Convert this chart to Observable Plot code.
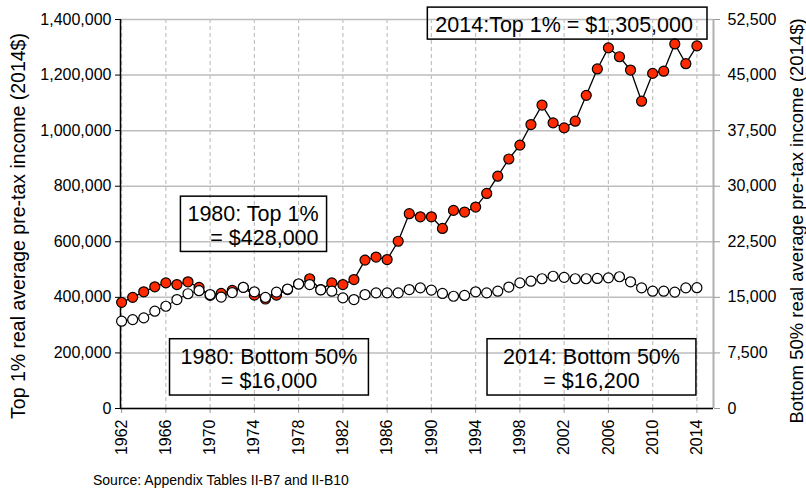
<!DOCTYPE html>
<html><head><meta charset="utf-8">
<script src="https://cdn.jsdelivr.net/npm/d3@7"></script>
<script src="https://cdn.jsdelivr.net/npm/@observablehq/plot@0.6"></script>
<style>
body{margin:0;background:#fff;font-family:"Liberation Sans",Arial,sans-serif;}
#caption{font-size:14px;padding-left:93px;padding-top:10px;line-height:16px;color:#000;}
</style></head><body>
<div id="chart"></div>
<div id="caption">Source: Appendix Tables II-B7 and II-B10</div>
<script>
const years = [1962,1963,1964,1965,1966,1967,1968,1969,1970,1971,1972,1973,1974,1975,1976,1977,1978,1979,1980,1981,1982,1983,1984,1985,1986,1987,1988,1989,1990,1991,1992,1993,1994,1995,1996,1997,1998,1999,2000,2001,2002,2003,2004,2005,2006,2007,2008,2009,2010,2011,2012,2013,2014];
const top1 = [382000,400000,420000,438000,452000,446000,456000,436000,407000,414000,425000,436000,408000,394000,408000,428000,448000,467000,428000,452000,446000,464000,534000,545000,536000,602000,701000,690000,690000,648000,713000,707000,725000,774000,836000,898000,948000,1022000,1092000,1028000,1010000,1034000,1127000,1222000,1298000,1266000,1218000,1106000,1206000,1214000,1312000,1241000,1305000];
const bottom50 = [11780,12000,12230,13130,13800,14700,15490,15900,15380,15040,15640,16350,15750,15000,15710,16120,16800,16730,16000,15830,14930,14700,15380,15600,15600,15600,16050,16280,15980,15530,15150,15260,15750,15600,15830,16390,16950,17180,17510,17850,17700,17510,17510,17550,17630,17780,17100,16280,15830,15830,15710,16280,16300];
const leftTicks = [0,200000,400000,600000,800000,1000000,1200000,1400000];
const rightTicks = [0,7500,15000,22500,30000,37500,45000,52500];
const yearTicks = [1962,1966,1970,1974,1978,1982,1986,1990,1994,1998,2002,2006,2010,2014];
const leftTitle = "Top 1% real average pre-tax income (2014$)";
const rightTitle = "Bottom 50% real average pre-tax income (2014$)";
const annotations = [
  {text: "2014:Top 1% = $1,305,000", x: 2002.0, y: 1382600},
  {text: "1980: Top 1%\n= $428,000", x: 1979.8, y: 658500},
  {text: "1980: Bottom 50%\n= $16,000", x: 1975.32, y: 145400},
  {text: "2014: Bottom 50%\n= $16,200", x: 2004.47, y: 145400}
];
// styling of the annotation boxes: text anchor and padding [left, right, top, bottom]
const annoAnchor = ["middle", "end", "middle", "middle"];
const boxPad = [[8,14,6,2],[7,8,6,1],[11,11,6,2],[16,16,6,2]];

const ratio = leftTicks[leftTicks.length-1] / rightTicks[rightTicks.length-1];
const rows = years.map((yr,i)=>({year: yr, top1: top1[i], bottom50: bottom50[i]}));
const xDomain = [1961.9, 2015.5];
const fmt = d3.format(",");
const FONT = '"Liberation Sans", Arial, sans-serif';
const annoMarks = ["middle", "end"].map(anchor =>
  Plot.text(annotations.filter((a, i) => annoAnchor[i] === anchor),
    {x: "x", y: "y", text: "text", fontSize: 21.5, lineHeight: 1.13, textAnchor: anchor, fill: "#000"}));

const plot = Plot.plot({
  width: 806, height: 462,
  marginLeft: 120, marginRight: 93, marginTop: 19, marginBottom: 54,
  style: {fontFamily: FONT, fontSize: "16px", color: "#000", background: "#fff", overflow: "visible"},
  x: {domain: xDomain},
  y: {domain: [0, 1400000]},
  marks: [
    Plot.gridY(leftTicks, {stroke: "#bdbdbd", strokeOpacity: 1, strokeWidth: 1.5}),
    Plot.gridX(yearTicks, {stroke: "#c2c2c2", strokeOpacity: 1, strokeDasharray: "4,3", strokeWidth: 1.2}),
    Plot.ruleX([xDomain[1]], {stroke: "#b0b0b0", strokeWidth: 2}),
    Plot.axisY(leftTicks, {anchor: "left", tickFormat: fmt, tickSize: 5, tickPadding: 4, label: null, fontSize: 16, stroke: "#000"}),
    Plot.axisY(rightTicks.map(v => v * ratio), {anchor: "right", tickFormat: d => fmt(Math.round(d / ratio)), tickSize: 6, tickPadding: 8, label: null, fontSize: 16, stroke: "#999"}),
    Plot.axisX(yearTicks, {anchor: "bottom", tickRotate: -90, tickFormat: d => String(d), tickSize: 5, tickPadding: 6, label: null, fontSize: 16, stroke: "#999"}),
    Plot.ruleX([xDomain[0]], {stroke: "#000", strokeWidth: 1.5}),
    Plot.ruleY([0], {stroke: "#000", strokeWidth: 1.5}),
    Plot.line(rows, {x: "year", y: "top1", stroke: "#000", strokeWidth: 1.3}),
    Plot.dot(rows, {x: "year", y: "top1", r: 5, fill: "#ff2a00", stroke: "#000", strokeWidth: 1.2}),
    Plot.line(rows, {x: "year", y: d => d.bottom50 * ratio, stroke: "#000", strokeWidth: 1}),
    Plot.dot(rows, {x: "year", y: d => d.bottom50 * ratio, r: 5, fill: "#fff", stroke: "#000", strokeWidth: 1.2}),
    ...annoMarks,
    Plot.text([leftTitle], {frameAnchor: "left", dx: -102, dy: 12, rotate: -90, textAnchor: "middle", fontSize: 19.5, fill: "#000"}),
    Plot.text([rightTitle], {frameAnchor: "right", dx: 84, dy: 7, rotate: -90, textAnchor: "middle", fontSize: 18.5, fill: "#000"})
  ]
});
document.getElementById("chart").append(plot);

// draw boxes around annotation texts
const svgNS = "http://www.w3.org/2000/svg";
const allTexts = Array.from(plot.querySelectorAll("text"));
annotations.forEach((a, i) => {
  const key = a.text.replace(/\n/g, "");
  const t = allTexts.find(el => el.textContent === key);
  if (!t) return;
  const b = t.getBBox();
  const [pl, pr, pt, pb] = boxPad[i];
  const r = document.createElementNS(svgNS, "rect");
  r.setAttribute("x", b.x - pl);
  r.setAttribute("y", b.y - pt);
  r.setAttribute("width", b.width + pl + pr);
  r.setAttribute("height", b.height + pt + pb);
  r.setAttribute("fill", "none");
  r.setAttribute("stroke", "#000");
  r.setAttribute("stroke-width", "1.5");
  const tr = t.getAttribute("transform");
  if (tr) r.setAttribute("transform", tr);
  t.parentNode.insertBefore(r, t);
});
</script>
</body></html>
